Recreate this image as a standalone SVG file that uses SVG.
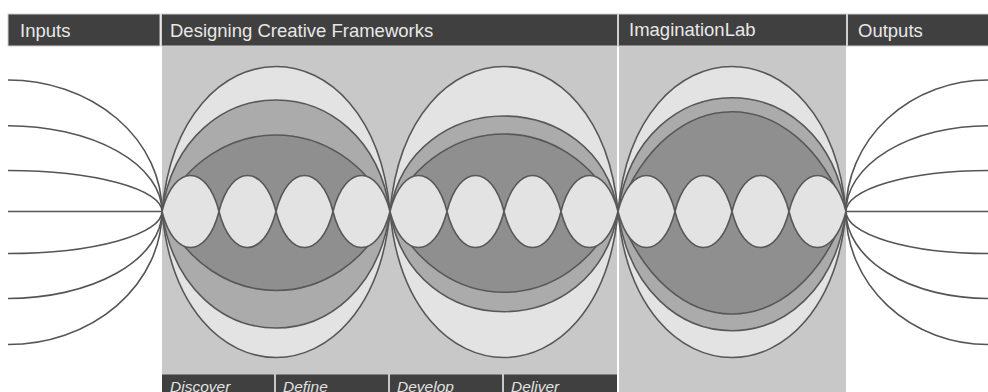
<svg xmlns="http://www.w3.org/2000/svg" xmlns:xlink="http://www.w3.org/1999/xlink" width="988" height="392" viewBox="0 0 988 392">
<style>
.hdr{fill:#404040;stroke:#cfcfcf;stroke-width:1}
.htxt{font-family:"Liberation Sans",Arial,sans-serif;font-size:18.5px;fill:#e8e8e8}
.btxt{font-family:"Liberation Sans",Arial,sans-serif;font-size:15.5px;font-style:italic;fill:#e2e2e2}
.panel{fill:#c8c8c8}
.ln{stroke:#585858;stroke-width:1.6;stroke-linejoin:round}
.l1{fill:#e3e3e3}
.l2{fill:#ababab}
.l3{fill:#8f8f8f}
.con{fill:none;stroke:#555;stroke-width:1.6}
</style>
<defs>
<path id="small" class="ln l1" d="M0 0 C12 -48 45 -48 57 0 C45 48 12 48 0 0Z"/>
</defs>
<rect width="988" height="392" fill="#fff"/>
<g id="panels">
<rect class="panel" x="162" y="46" width="455" height="346"/>
<rect class="panel" x="619" y="46" width="227" height="346"/>
</g>
<g id="headers">
<g id="h-inputs"><rect class="hdr" x="8" y="14" width="152" height="32"/><text class="htxt" x="20" y="37">Inputs</text></g>
<g id="h-designing"><rect class="hdr" x="161.5" y="14" width="456" height="32"/><text class="htxt" x="170" y="37">Designing Creative Frameworks</text></g>
<g id="h-imagination"><rect class="hdr" x="618.5" y="14" width="228" height="32"/><text class="htxt" x="629" y="36">ImaginationLab</text></g>
<g id="h-outputs"><rect class="hdr" x="847.5" y="14" width="142" height="32"/><text class="htxt" x="858" y="37">Outputs</text></g>
</g>
<g id="connectors">
<path class="con" d="M8 80 A154 131.5 0 0 1 162 211.5"/>
<path class="con" d="M8 125.7 A154 85.8 0 0 1 162 211.5"/>
<path class="con" d="M8 170.5 A154 41 0 0 1 162 211.5"/>
<path class="con" d="M8 211.5 L162 211.5"/>
<path class="con" d="M8 253.5 A154 42 0 0 0 162 211.5"/>
<path class="con" d="M8 298.5 A154 87 0 0 0 162 211.5"/>
<path class="con" d="M8 344.5 A154 133 0 0 0 162 211.5"/>
<path class="con" d="M988 80 A142 131.5 0 0 0 846 211.5"/>
<path class="con" d="M988 125.7 A142 85.8 0 0 0 846 211.5"/>
<path class="con" d="M988 170.5 A142 41 0 0 0 846 211.5"/>
<path class="con" d="M988 211.5 L846 211.5"/>
<path class="con" d="M988 253.5 A142 42 0 0 1 846 211.5"/>
<path class="con" d="M988 298.5 A142 87 0 0 1 846 211.5"/>
<path class="con" d="M988 344.5 A142 133 0 0 1 846 211.5"/>
</g>
<g id="lens-1">
<path class="ln l1" d="M162 211.5 C180 18.2 372 18.2 390 211.5 C372 406.2 180 406.2 162 211.5Z"/>
<path class="ln l2" d="M162 211.5 C184 62.8 368 62.8 390 211.5 C368 366.8 184 366.8 162 211.5Z"/>
<path class="ln l3" d="M162 211.5 C212 109.5 340 109.5 390 211.5 C340 316.8 212 316.8 162 211.5Z"/>
<use xlink:href="#small" x="162" y="211.5"/>
<use xlink:href="#small" x="219" y="211.5"/>
<use xlink:href="#small" x="276" y="211.5"/>
<use xlink:href="#small" x="333" y="211.5"/>
</g>
<g id="lens-2">
<path class="ln l1" d="M390 211.5 C408 18.2 600 18.2 618 211.5 C600 406.2 408 406.2 390 211.5Z"/>
<path class="ln l2" d="M390 211.5 C412 84.2 596 84.2 618 211.5 C596 345.1 412 345.1 390 211.5Z"/>
<path class="ln l3" d="M390 211.5 C440 108.2 568 108.2 618 211.5 C568 319.2 440 319.2 390 211.5Z"/>
<use xlink:href="#small" x="390" y="211.5"/>
<use xlink:href="#small" x="447" y="211.5"/>
<use xlink:href="#small" x="504" y="211.5"/>
<use xlink:href="#small" x="561" y="211.5"/>
</g>
<g id="lens-3">
<path class="ln l1" d="M618 211.5 C636 18.2 828 18.2 846 211.5 C828 406.2 636 406.2 618 211.5Z"/>
<path class="ln l2" d="M618 211.5 C640 59.8 824 59.8 846 211.5 C824 370.4 640 370.4 618 211.5Z"/>
<path class="ln l3" d="M618 211.5 C668 78.5 796 78.5 846 211.5 C796 348.2 668 348.2 618 211.5Z"/>
<use xlink:href="#small" x="618" y="211.5"/>
<use xlink:href="#small" x="675" y="211.5"/>
<use xlink:href="#small" x="732" y="211.5"/>
<use xlink:href="#small" x="789" y="211.5"/>
</g>
<g id="phases">
<g id="p-discover"><rect fill="#404040" x="162" y="374.5" width="112" height="18"/><text class="btxt" x="170" y="392">Discover</text></g>
<g id="p-define"><rect fill="#404040" x="276" y="374.5" width="112" height="18"/><text class="btxt" x="283" y="392">Define</text></g>
<g id="p-develop"><rect fill="#404040" x="390" y="374.5" width="112" height="18"/><text class="btxt" x="397" y="392">Develop</text></g>
<g id="p-deliver"><rect fill="#404040" x="504" y="374.5" width="113" height="18"/><text class="btxt" x="511" y="392">Deliver</text></g>
</g>
</svg>
